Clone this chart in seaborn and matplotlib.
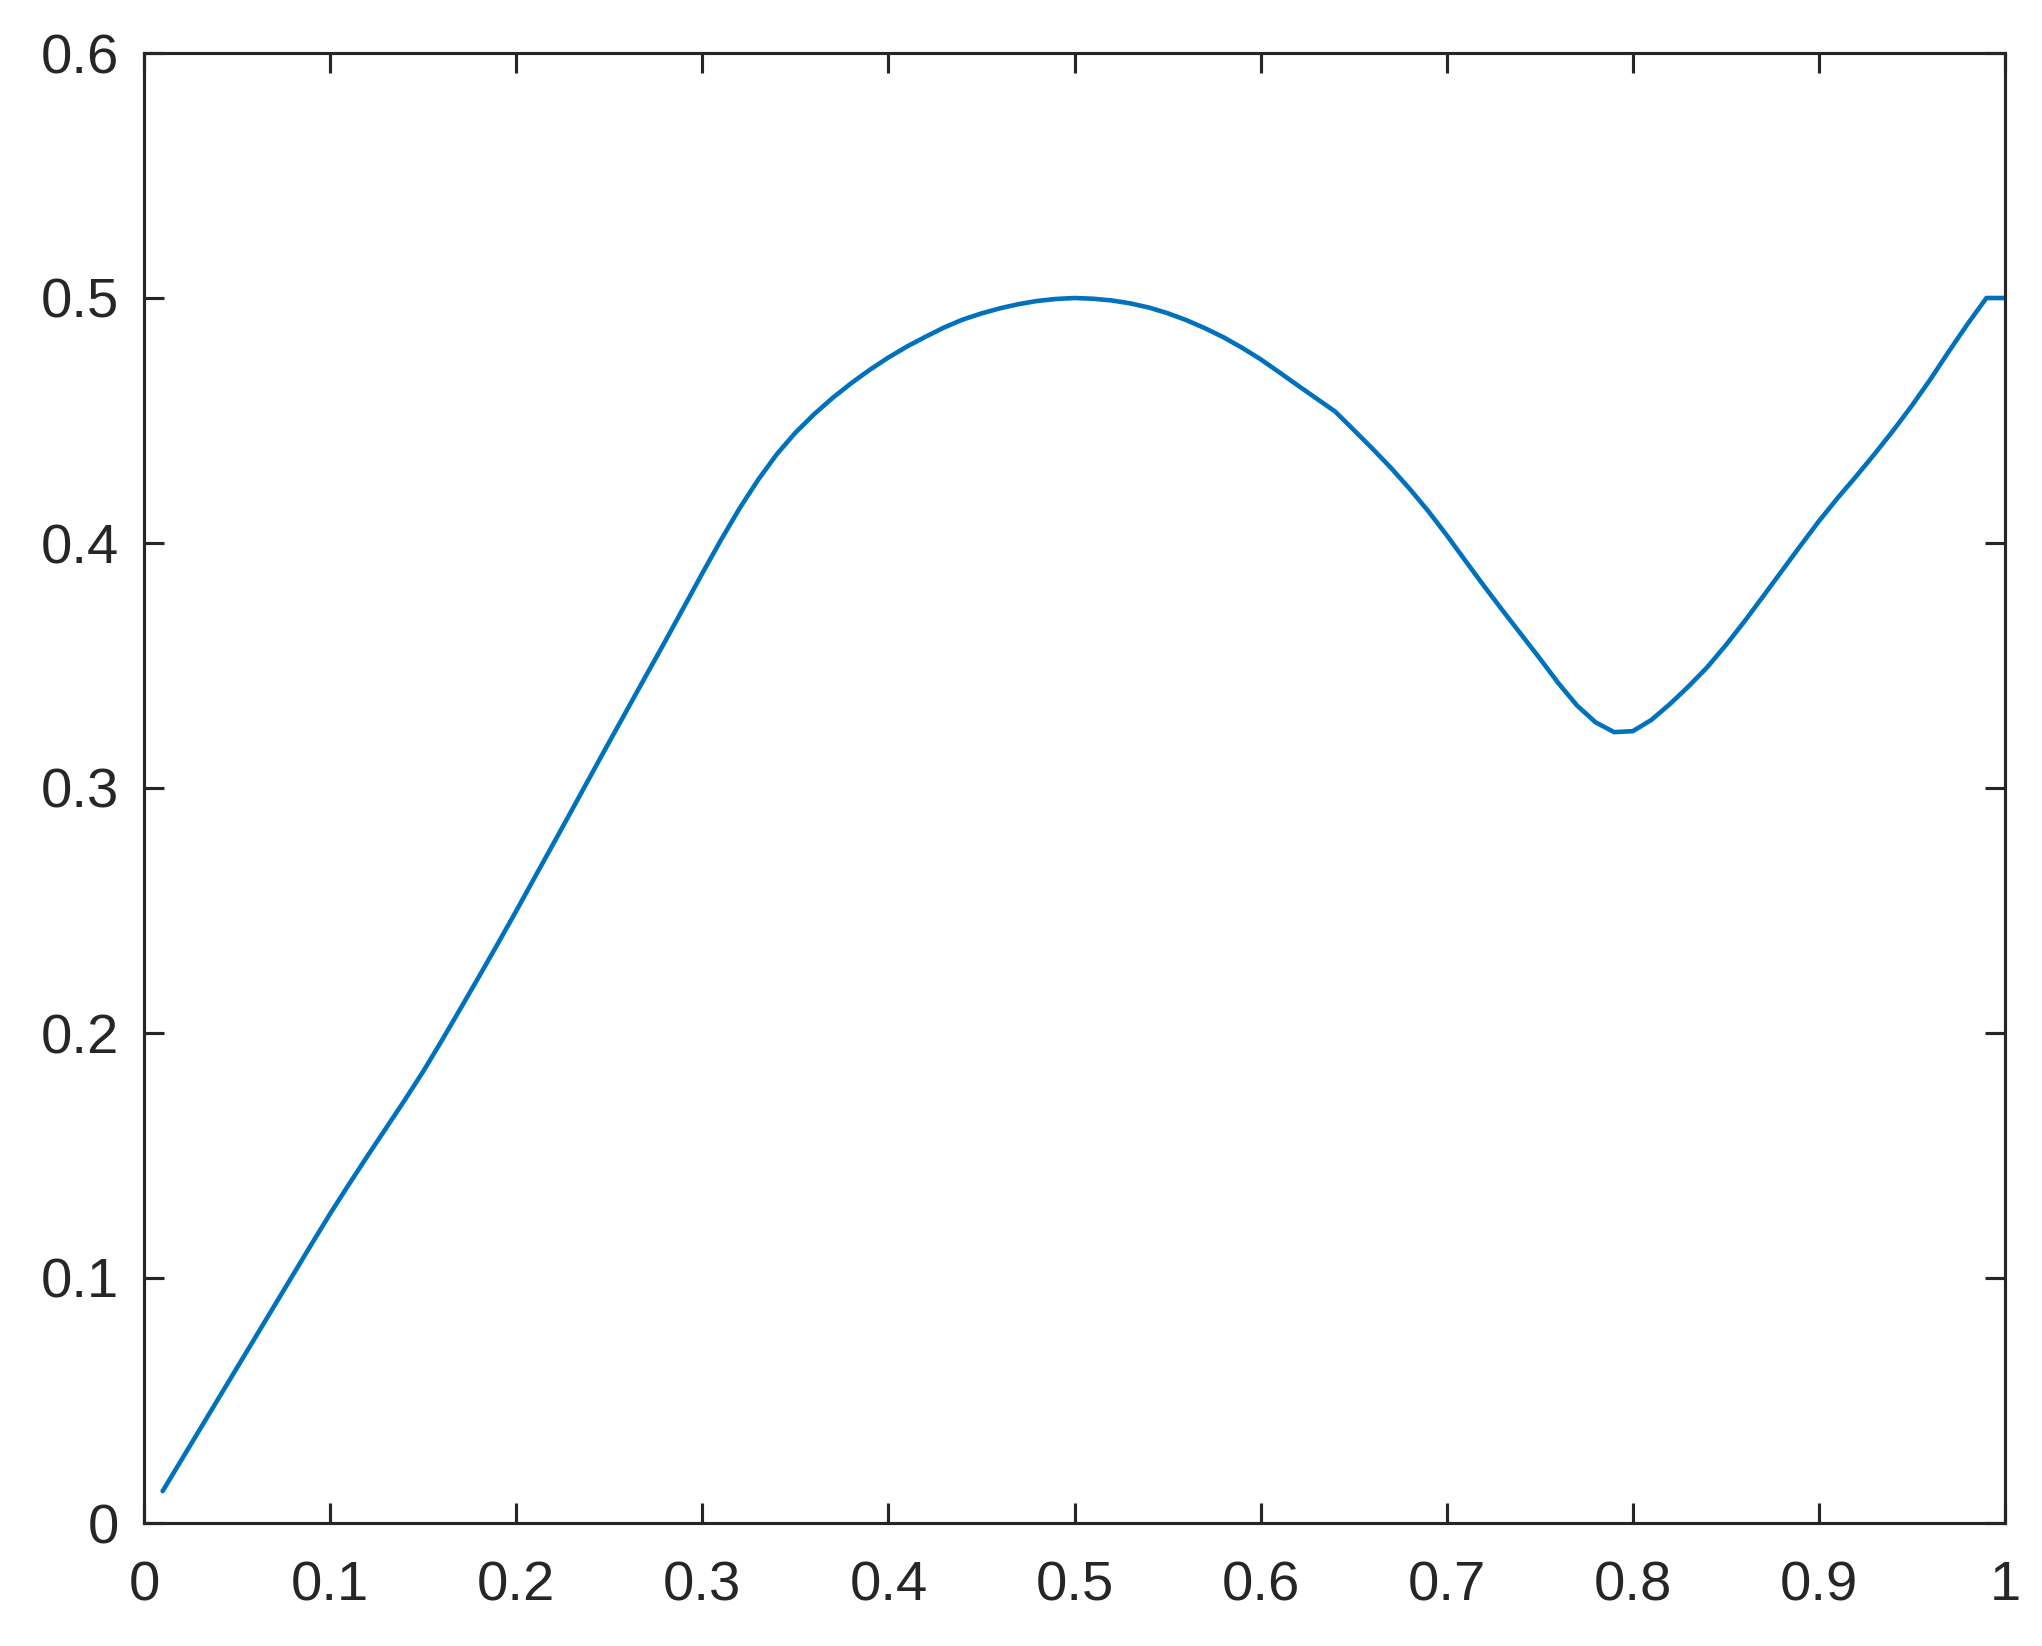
import matplotlib
matplotlib.use("Agg")
import matplotlib.pyplot as plt
import seaborn as sns

# curve values, x in steps of 0.01
x_vals = [0.01, 0.02, 0.03, 0.04, 0.05, 0.06, 0.07, 0.08, 0.09, 0.10,
          0.11, 0.12, 0.13, 0.14, 0.15, 0.16, 0.17, 0.18, 0.19, 0.20,
          0.21, 0.22, 0.23, 0.24, 0.25, 0.26, 0.27, 0.28, 0.29, 0.30,
          0.31, 0.32, 0.33, 0.34, 0.35, 0.36, 0.37, 0.38, 0.39, 0.40,
          0.41, 0.42, 0.43, 0.44, 0.45, 0.46, 0.47, 0.48, 0.49, 0.50,
          0.51, 0.52, 0.53, 0.54, 0.55, 0.56, 0.57, 0.58, 0.59, 0.60,
          0.61, 0.62, 0.63, 0.64, 0.65, 0.66, 0.67, 0.68, 0.69, 0.70,
          0.71, 0.72, 0.73, 0.74, 0.75, 0.76, 0.77, 0.78, 0.79, 0.80,
          0.81, 0.82, 0.83, 0.84, 0.85, 0.86, 0.87, 0.88, 0.89, 0.90,
          0.91, 0.92, 0.93, 0.94, 0.95, 0.96, 0.97, 0.98, 0.99, 1.00]
y_vals = [0.013, 0.0256, 0.0382, 0.0508, 0.0634, 0.076, 0.0886, 0.1012, 0.1138, 0.1262,
          0.1381, 0.1497, 0.1611, 0.1725, 0.1843, 0.1969, 0.2099, 0.223, 0.2363, 0.2498,
          0.2636, 0.2773, 0.2911, 0.305, 0.3188, 0.3325, 0.3462, 0.3598, 0.3737, 0.3876,
          0.4012, 0.4141, 0.4258, 0.4362, 0.4450, 0.4525, 0.4592, 0.4652, 0.4707, 0.4757,
          0.4802, 0.4842, 0.4880, 0.4912, 0.4937, 0.4958, 0.4975, 0.4988, 0.4996, 0.500,
          0.4997, 0.499, 0.4978, 0.4961, 0.4938, 0.4910, 0.4877, 0.4840, 0.4797, 0.4750,
          0.4697, 0.4643, 0.4590, 0.4537, 0.4462, 0.4386, 0.4307, 0.4222, 0.4131, 0.4032,
          0.3928, 0.3825, 0.3725, 0.3627, 0.3529, 0.3428, 0.3337, 0.3268, 0.3228, 0.3232,
          0.3278, 0.3343, 0.3415, 0.3493, 0.3583, 0.3680, 0.3782, 0.3885, 0.3988, 0.4089,
          0.4183, 0.4272, 0.4364, 0.4460, 0.4561, 0.4669, 0.4784, 0.4895, 0.500, 0.500]

x_ticks = [0, 0.1, 0.2, 0.3, 0.4, 0.5, 0.6, 0.7, 0.8, 0.9, 1.0]
x_labels = ["0", "0.1", "0.2", "0.3", "0.4", "0.5", "0.6", "0.7", "0.8", "0.9", "1"]
y_ticks = [0, 0.1, 0.2, 0.3, 0.4, 0.5, 0.6]
y_labels = ["0", "0.1", "0.2", "0.3", "0.4", "0.5", "0.6"]

sns.set_theme(style="ticks")
plt.rcParams["font.family"] = ["Liberation Sans", "DejaVu Sans"]
axis_col = "#262626"

fig, ax = plt.subplots(figsize=(2043 / 300, 1646 / 300), dpi=300)
fig.subplots_adjust(left=144 / 2043, right=2005 / 2043,
                    bottom=1 - 1523 / 1646, top=1 - 53 / 1646)

sns.lineplot(x=x_vals, y=y_vals, ax=ax, color="#0072BD", linewidth=1.1)

ax.set_xlim(0, 1)
ax.set_ylim(0, 0.6)
ax.set_xticks(x_ticks)
ax.set_xticklabels(x_labels)
ax.set_yticks(y_ticks)
ax.set_yticklabels(y_labels)

for sp in ax.spines.values():
    sp.set_visible(True)
    sp.set_color(axis_col)
    sp.set_linewidth(0.75)

ax.tick_params(axis="both", which="major", direction="in", length=4.8, width=0.75,
               color=axis_col, labelcolor=axis_col, labelsize=13.5,
               top=True, right=True)
ax.tick_params(axis="x", pad=9)
ax.tick_params(axis="y", pad=6)

fig.savefig("out.png", dpi=300)
